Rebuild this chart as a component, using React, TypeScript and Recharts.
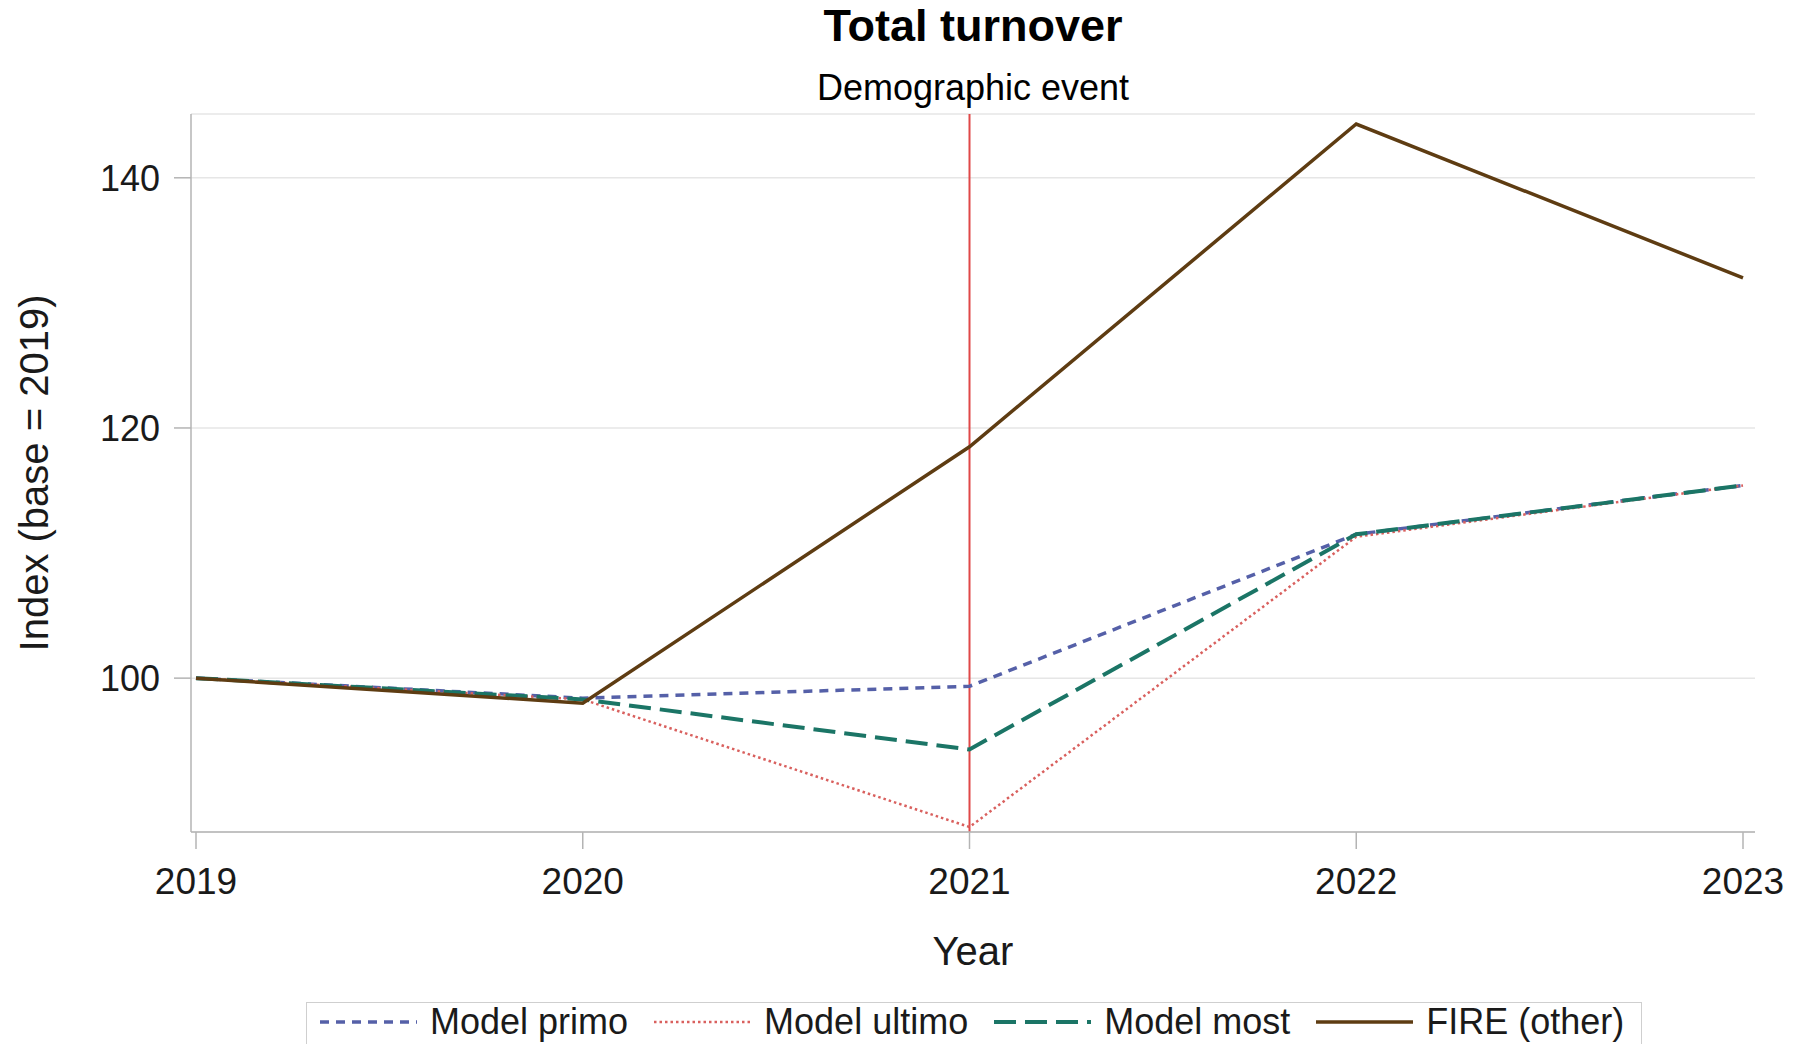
import React from 'react';
import { LineChart, Line, XAxis, YAxis, CartesianGrid, ReferenceLine } from 'recharts';

const years = [2019, 2020, 2021, 2022, 2023];
const modelPrimo = [100, 98.4, 99.35, 111.5, 115.4];
const modelUltimo = [100, 98.3, 88.1, 111.3, 115.4];
const modelMost = [100, 98.3, 94.3, 111.5, 115.4];
const fireOther = [100, 98.0, 118.5, 144.3, 132.0];
const yTicks = [100, 120, 140];
const eventYear = 2021;

const seriesInfo = [
  { key: 'primo', name: 'Model primo', color: '#5560a8', dash: '9 7', width: 3.5 },
  { key: 'ultimo', name: 'Model ultimo', color: '#d9605e', dash: '2.5 3', width: 2.5 },
  { key: 'most', name: 'Model most', color: '#1b7566', dash: '22 9', width: 4 },
  { key: 'fire', name: 'FIRE (other)', color: '#5e3c12', dash: undefined, width: 3.5 },
];

const data = years.map((y, i) => ({
  year: y,
  primo: modelPrimo[i],
  ultimo: modelUltimo[i],
  most: modelMost[i],
  fire: fireOther[i],
}));

const FONT = '"Liberation Sans", Arial, sans-serif';
const FRAME = '#b4b4b4';

export default function App() {
  return (
    <div style={{ position: 'absolute', left: 0, top: 0, width: 1793, height: 1044, overflow: 'hidden', background: '#fff', fontFamily: FONT }}>
      <div style={{ position: 'absolute', left: 973, top: 3, transform: 'translateX(-50%)', whiteSpace: 'nowrap', fontSize: 45, lineHeight: '45px', fontWeight: 'bold', color: '#000' }}>
        Total turnover
      </div>
      <div style={{ position: 'absolute', left: 973, top: 70, transform: 'translateX(-50%)', whiteSpace: 'nowrap', fontSize: 36, lineHeight: '36px', color: '#000' }}>
        Demographic event
      </div>
      <div style={{ position: 'absolute', left: 0, top: 0 }}>
        <LineChart width={1793} height={1044} data={data} margin={{ top: 114, right: 38, bottom: 72, left: 0 }}>
          <CartesianGrid vertical={false} stroke="#e6e6e6" strokeWidth={1.5} />
          <XAxis
            dataKey="year"
            type="number"
            domain={[2019, 2023]}
            ticks={years}
            padding={{ left: 5, right: 12 }}
            height={140}
            tickSize={17}
            tickMargin={19}
            stroke={FRAME}
            strokeWidth={1.5}
            tick={{ fill: '#1a1a1a', fontSize: 37, fontFamily: FONT }}
            label={{ value: 'Year', position: 'insideBottom', offset: 7, style: { fill: '#1a1a1a', fontSize: 40, fontFamily: FONT } }}
          />
          <XAxis xAxisId="top" orientation="top" type="number" domain={[2019, 2023]} height={0} tick={false} tickLine={false} stroke={FRAME} strokeWidth={1.5} />
          <YAxis
            type="number"
            domain={[87.7, 145.1]}
            ticks={yTicks}
            width={191}
            tickSize={17}
            tickMargin={14}
            stroke={FRAME}
            strokeWidth={1.5}
            tick={{ fill: '#1a1a1a', fontSize: 36, fontFamily: FONT }}
            label={{ value: 'Index (base = 2019)', angle: -90, position: 'insideLeft', offset: 34, style: { textAnchor: 'middle', fill: '#1a1a1a', fontSize: 40, fontFamily: FONT } }}
          />
          <YAxis yAxisId="right" orientation="right" width={0} domain={[0, 1]} tick={false} tickLine={false} stroke={FRAME} strokeWidth={1.5} />
          <ReferenceLine x={eventYear} stroke="#e04848" strokeWidth={2} />
          {seriesInfo.map((s) => (
            <Line
              key={s.key}
              type="linear"
              dataKey={s.key}
              name={s.name}
              stroke={s.color}
              strokeWidth={s.width}
              strokeDasharray={s.dash}
              dot={false}
              activeDot={false}
              isAnimationActive={false}
            />
          ))}
        </LineChart>
      </div>
      <div style={{ position: 'absolute', left: 306, top: 1002, width: 1336, height: 70, border: '1.5px solid #cfcfcf', boxSizing: 'border-box', display: 'flex', alignItems: 'flex-start', paddingLeft: 13, paddingTop: 0 }}>
        {seriesInfo.map((s, i) => (
          <div key={s.key} style={{ display: 'flex', alignItems: 'center', height: 38, marginRight: i < seriesInfo.length - 1 ? 26 : 0 }}>
            <svg width={97} height={10} style={{ display: 'block' }}>
              <line x1={0} y1={5} x2={97} y2={5} stroke={s.color} strokeWidth={s.width} strokeDasharray={s.dash} />
            </svg>
            <span style={{ marginLeft: 13, fontSize: 36, lineHeight: '38px', color: '#1a1a1a', whiteSpace: 'nowrap' }}>{s.name}</span>
          </div>
        ))}
      </div>
    </div>
  );
}
